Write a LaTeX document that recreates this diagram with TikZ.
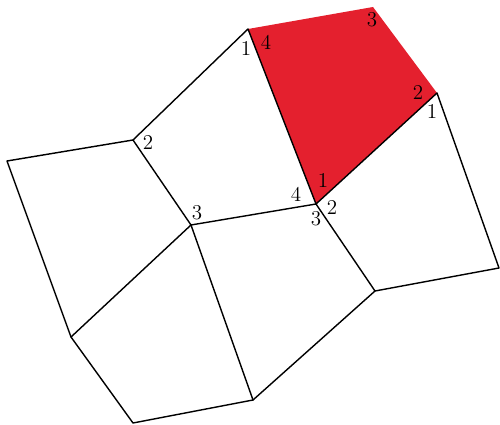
\documentclass[tikz,border=0pt]{standalone}
\definecolor{quadred}{RGB}{228,32,46}
\begin{document}
\begin{tikzpicture}[x=0.02cm,y=-0.02cm,
    edge/.style={line width=0.8pt,line cap=round,line join=round},
    corner/.style={font=\large,inner sep=0pt}]
  \useasboundingbox (0,0) rectangle (500,425);

  % vertices of the quadrilaterals
  \coordinate (A) at (248,29);
  \coordinate (B) at (373,7);
  \coordinate (C) at (437,93);
  \coordinate (D) at (316,204);
  \coordinate (E) at (133,140);
  \coordinate (F) at (191,225);
  \coordinate (G) at (7,161);
  \coordinate (H) at (71,337);
  \coordinate (I) at (133,423);
  \coordinate (J) at (253,400);
  \coordinate (K) at (375,291);
  \coordinate (L) at (499,268);

  \fill[quadred] (A) -- (B) -- (C) -- (D) -- cycle;

  \draw[edge] (G) -- (E) -- (A) -- (D) -- (C) -- (L) -- (K) -- (J) -- (I) -- (H) -- cycle;
  \draw[edge] (E) -- (F) -- (D);
  \draw[edge] (F) -- (H);
  \draw[edge] (F) -- (J);
  \draw[edge] (D) -- (K);

  % corner numbers
  \node[corner] (a1) at (246,48) {1};
  \node[corner] (a4) at (266,42) {4};
  \node[corner] (b3) at (372,20) {3};
  \node[corner] (c2) at (418,92) {2};
  \node[corner] (c1) at (432,111) {1};
  \node[corner] (d1) at (323,180) {1};
  \node[corner] (d4) at (296,194) {4};
  \node[corner] (d2) at (332,207) {2};
  \node[corner] (d3) at (316,219) {3};
  \node[corner] (e2) at (148,142) {2};
  \node[corner] (f3) at (197,213) {3};
\end{tikzpicture}
\end{document}
